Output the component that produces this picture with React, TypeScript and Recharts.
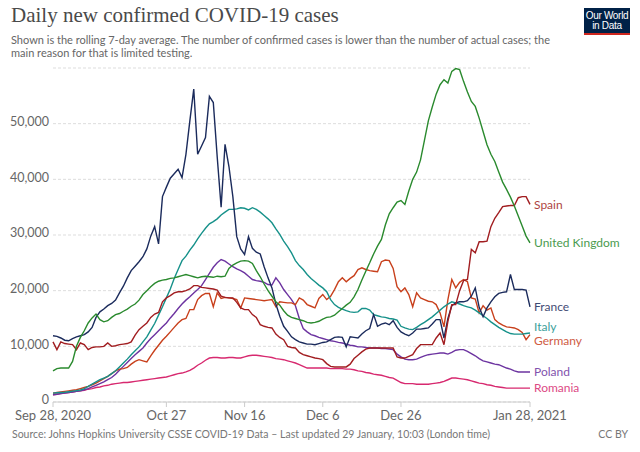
import { LineChart, Line, XAxis, YAxis, CartesianGrid, LabelList } from 'recharts';

// days since Sep 28, 2020 (0 .. 122 = Jan 28, 2021)
const tickDays = [0, 29, 49, 69, 89, 122];
const tickLabels = ['Sep 28, 2020', 'Oct 27', 'Nov 16', 'Dec 6', 'Dec 26', 'Jan 28, 2021'];
const yTicks = [0, 10000, 20000, 30000, 40000, 50000];

// rolling 7-day average of daily new confirmed cases
const france = [11900, 11800, 11500, 11100, 11000, 11400, 11700, 11900, 12100, 12600,
  13400, 15200, 16200, 16700, 17300, 17700, 18300, 19600, 20800, 22300,
  23600, 24400, 25200, 26100, 27500, 29800, 31500, 28400, 36900, 38600,
  40200, 41000, 41800, 40300, 44500, 50500, 56200, 44500, 46000, 47500,
  54900, 53800, 44000, 35000, 46300, 42300, 36900, 29700, 27500, 26500,
  29700, 27600, 26900, 26600, 24300, 22300, 20500, 17600, 15400, 13600,
  12700, 11700, 11200, 10800, 10600, 10400, 10400, 10300, 10500, 10700,
  10800, 11200, 11600, 11700, 11600, 9900, 11700, 11600, 11500, 12200,
  12800, 13200, 15700, 13600, 14000, 14200, 13900, 14600, 13400, 12600,
  12200, 11900, 12400, 13100, 13100, 13200, 13300, 14000, 14800, 14800,
  11500, 15000, 17300, 17800, 18000, 18000, 18200, 19000, 20500, 17000,
  15300, 16900, 18000, 18900, 19500, 19700, 19800, 22900, 20200, 20200,
  20200, 20100, 17100];

const uk = [5600, 6000, 6100, 6100, 6100, 7300, 10000, 11600, 12800, 14200,
  15100, 15800, 14800, 14400, 14600, 15200, 15700, 15900, 16300, 16700,
  17200, 17600, 18300, 19300, 20000, 20700, 21300, 21700, 21900, 22000,
  22200, 22300, 22500, 22700, 22900, 22700, 22500, 22300, 22500, 22600,
  22500, 22400, 22600, 22500, 22600, 24000, 24600, 25000, 25300, 25400,
  25300, 24900, 23600, 22500, 21200, 20000, 19000, 18000, 17400, 16400,
  15600, 15200, 15000, 14800, 14600, 14300, 14200, 14300, 14500, 14900,
  15200, 15300, 15600, 16200, 16800, 17400, 17900, 18900, 20200, 21900,
  23500, 25000, 26600, 28000, 29200, 31800, 33800, 34900, 35900, 36200,
  35500, 37900, 40000, 41300, 43500, 47000, 50500, 53000, 55300, 57000,
  57900, 57300, 59400, 59900, 59700, 57600, 55700, 54000, 53100, 51000,
  48600, 46200, 44500, 43200, 41300, 39500, 38200, 36800, 35200, 33400,
  31600, 29800, 28600];

const italy = [1600, 1650, 1700, 1750, 1850, 1950, 2050, 2150, 2400, 2800,
  3200, 3600, 4000, 4300, 4600, 5100, 5600, 6300, 7000, 7700,
  8500, 9200, 9900, 10800, 11700, 12900, 14100, 15600, 17100, 18700,
  20300, 22200, 23800, 25400, 26200, 27300, 28200, 29300, 30300, 31200,
  32000, 32400, 32900, 33600, 34100, 34600, 34600, 34700, 34900, 34800,
  34500, 34900, 34600, 34100, 33500, 32900, 32200, 31100, 30100, 28900,
  27900, 26800, 25400, 24500, 23800, 22900, 22200, 21600, 21000, 20500,
  19800, 18400, 17500, 17000, 16700, 16400, 16200, 16100, 16200, 16800,
  16800, 16500, 15700, 15500, 15300, 15200, 15000, 14900, 14700, 13600,
  13300, 13100, 13000, 13400, 13900, 14300, 14800, 15300, 15900, 16500,
  17100, 17600, 18000, 17800, 17600, 17300, 17100, 16900, 16500, 16000,
  15500, 15000, 14400, 13900, 13400, 13000, 12600, 12300, 12200, 12200,
  12200, 12300, 12400];

const germany = [1600, 1700, 1800, 1900, 2000, 2100, 2200, 2400, 2600, 2800,
  3100, 3400, 3800, 4200, 4600, 5100, 5600, 5900, 6000, 6200,
  6800, 7300, 7600, 7400, 7200, 8300, 9300, 10200, 11100, 11800,
  12600, 13400, 14200, 14800, 15000, 16600, 16600, 18400, 19100, 19500,
  19500, 17100, 19600, 18600, 18800, 18700, 18600, 18400, 16900, 18700,
  18600, 18500, 18400, 18300, 18200, 18300, 18400, 17100, 18000, 17900,
  17800, 17800, 17500, 18700, 18300, 17500, 17200, 16900, 18600, 19300,
  18400, 19000, 20200, 21600, 22300, 21600, 22200, 22700, 23800, 24100,
  23800, 23600, 23500, 23400, 25200, 25500, 25400, 24000, 20700, 19800,
  20500, 19300, 17100, 19600, 18700, 18400, 18100, 18000, 17500, 16000,
  13500, 18400, 22000, 20500, 21500, 22000, 21600, 18700, 18500, 16000,
  17300, 16500, 16900, 14800, 14200, 13800, 13500, 13400, 13300, 13000,
  12500, 11200, 12100];

const spain = [10800, 9400, 10800, 10500, 10400, 10300, 9400, 10600, 10300, 9400,
  9800, 9900, 9900, 10000, 10600, 10000, 10100, 10300, 10400, 10500,
  10800, 12000, 13000, 13600, 14200, 15200, 15800, 16100, 18000, 18700,
  19100, 19600, 19800, 19800, 20000, 20300, 20900, 20900, 20600, 20500,
  20400, 20300, 20100, 19000, 18800, 18700, 18700, 17900, 16900, 16600,
  16600, 15700, 15200, 13900, 13600, 13400, 13300, 12200, 11600, 11200,
  10000, 9800, 9700, 8900, 8500, 8300, 8100, 7900, 7800, 7600,
  6900, 6400, 6300, 6300, 6300, 6300, 6800, 7800, 8400, 9000,
  9500, 9700, 9700, 9700, 9700, 9700, 9700, 9700, 8100, 7900,
  7900, 8200, 8500, 9600, 10300, 10300, 10300, 10300, 11500, 12400,
  10300, 14500, 17500, 17500, 20000, 21800, 22000, 27400, 26800, 28800,
  28800, 28900, 31500, 33000, 34000, 35100, 35200, 35300, 35300, 36700,
  36900, 36900, 35500];

const poland = [1300, 1400, 1500, 1600, 1700, 1800, 1900, 2000, 2200, 2400,
  2700, 3000, 3300, 3600, 4000, 4400, 5000, 5700, 6400, 7100,
  7800, 8500, 9100, 9700, 10600, 11400, 12100, 12800, 13500, 14200,
  15100, 15900, 16800, 17600, 18300, 18900, 19600, 20200, 20900, 22000,
  23100, 24200, 25000, 25600, 25300, 24800, 24300, 23900, 23600, 23200,
  22600, 22000, 21800, 21700, 21500, 21100, 21000, 22300, 21400, 20200,
  19300, 18400, 17300, 15000, 13200, 12600, 12100, 11900, 11600, 11400,
  11200, 11000, 10900, 10700, 10600, 10400, 10200, 10100, 9900, 9900,
  9800, 9700, 9700, 9700, 9600, 9600, 9500, 9400, 8600, 8100,
  7700, 7600, 7600, 7700, 8000, 8300, 8500, 8600, 8700, 8800,
  8800, 8600, 8900, 9300, 9400, 9400, 9100, 8700, 8300, 7800,
  7400, 7200, 7000, 6800, 6700, 6400, 6100, 5900, 5600, 5400,
  5400, 5400, 5400];

const romania = [1300, 1400, 1500, 1600, 1700, 1800, 1900, 2000, 2100, 2300,
  2400, 2600, 2700, 2900, 3000, 3200, 3300, 3400, 3500, 3500,
  3600, 3700, 3800, 3900, 4000, 4100, 4200, 4300, 4400, 4500,
  4700, 4900, 5100, 5200, 5400, 5700, 6100, 6600, 7000, 7500,
  7900, 8000, 8000, 7900, 7900, 8000, 8000, 7900, 7900, 8100,
  8300, 8400, 8400, 8300, 8200, 8100, 8000, 7800, 7700, 7600,
  7400, 7200, 7000, 6700, 6400, 6100, 6100, 6100, 6100, 6100,
  6100, 6000, 6000, 6000, 6000, 5900, 5900, 5800, 5600, 5500,
  5300, 5200, 5000, 4900, 4800, 4600, 4400, 4300, 3900, 3500,
  3300, 3300, 3300, 3200, 3200, 3200, 3200, 3300, 3400, 3500,
  3700, 4000, 4300, 4300, 4200, 4100, 4000, 3800, 3600, 3400,
  3300, 3100, 3000, 2800, 2700, 2600, 2500, 2500, 2500, 2500,
  2500, 2500, 2500];

const rows = france.map((v, i) => ({
  day: i,
  France: v,
  'United Kingdom': uk[i],
  Italy: italy[i],
  Germany: germany[i],
  Spain: spain[i],
  Poland: poland[i],
  Romania: romania[i],
}));

const series = [
  { key: 'Romania', color: '#d7296f', dy: 0 },
  { key: 'Poland', color: '#6c33a0', dy: 0 },
  { key: 'Germany', color: '#c8401c', dy: 6 },
  { key: 'Italy', color: '#16918a', dy: -6 },
  { key: 'France', color: '#1b2b5c', dy: 0 },
  { key: 'Spain', color: '#a11d20', dy: 0 },
  { key: 'United Kingdom', color: '#2a8a2e', dy: 0 },
];

const last = france.length - 1;
const font = 'Lato, "Liberation Sans", sans-serif';

const endLabel = (name: string, color: string, dy: number) => (p: any) => {
  if (p.index !== last) return null;
  return (
    <text x={p.x + 4} y={p.y + dy} dy="0.35em" fill={color} fontSize={12} fontFamily={font} opacity={0.85}>
      {name}
    </text>
  );
};

export default function App() {
  return (
    <div style={{ position: 'relative', width: 640, height: 452, background: '#fff', fontFamily: font }}>
      <style>{'body{margin:0}'}</style>
      <div style={{ position: 'absolute', left: 11, top: 3, fontFamily: '"Liberation Serif", serif', fontSize: 21, color: '#4a4a4a', whiteSpace: 'nowrap' }}>
        Daily new confirmed COVID-19 cases
      </div>
      <div style={{ position: 'absolute', left: 11, top: 33, width: 600, fontSize: 11, lineHeight: '13px', color: '#666' }}>
        Shown is the rolling 7-day average. The number of confirmed cases is lower than the number of actual cases; the<br />
        main reason for that is limited testing.
      </div>
      <div style={{ position: 'absolute', left: 584, top: 8, width: 46, height: 27, background: '#002147', borderBottom: '2px solid #ce261e', color: '#fff', fontSize: 10, lineHeight: '10px', textAlign: 'center', paddingTop: 3, boxSizing: 'border-box', fontFamily: '"Liberation Sans", sans-serif', letterSpacing: '-0.3px' }}>
        Our World<br />in Data
      </div>
      <LineChart width={640} height={452} data={rows} margin={{ top: 68, right: 110, bottom: 20, left: 0 }}>
        <CartesianGrid vertical={false} stroke="#ddd" strokeDasharray="3 2" />
        <XAxis
          dataKey="day"
          type="number"
          domain={[0, last]}
          ticks={tickDays}
          interval={0}
          tickFormatter={(d: number) => tickLabels[tickDays.indexOf(d)]}
          axisLine={{ stroke: '#ccc' }}
          tickLine={{ stroke: '#ccc' }}
          tickSize={5}
          tickMargin={4}
          height={30}
          tick={{ fill: '#666', fontSize: 13, fontFamily: font }}
        />
        <YAxis
          width={53}
          domain={[0, 60000]}
          ticks={yTicks}
          interval={0}
          axisLine={false}
          tickLine={false}
          tickSize={2}
          tickFormatter={(v: number) => v.toLocaleString('en-US')}
          tick={{ fill: '#666', fontSize: 12.5, fontFamily: font, dy: -2 }}
        />
        {series.map((s) => (
          <Line
            key={s.key}
            dataKey={s.key}
            stroke={s.color}
            strokeWidth={1.4}
            dot={false}
            isAnimationActive={false}
          >
            <LabelList dataKey={s.key} content={endLabel(s.key, s.color, s.dy)} />
          </Line>
        ))}
      </LineChart>
      <div style={{ position: 'absolute', left: 12, top: 428, fontSize: 10.5, color: '#777', whiteSpace: 'nowrap' }}>
        Source: Johns Hopkins University CSSE COVID-19 Data – Last updated 29 January, 10:03 (London time)
      </div>
      <div style={{ position: 'absolute', right: 12, top: 428, fontSize: 10.5, color: '#777' }}>CC BY</div>
    </div>
  );
}
